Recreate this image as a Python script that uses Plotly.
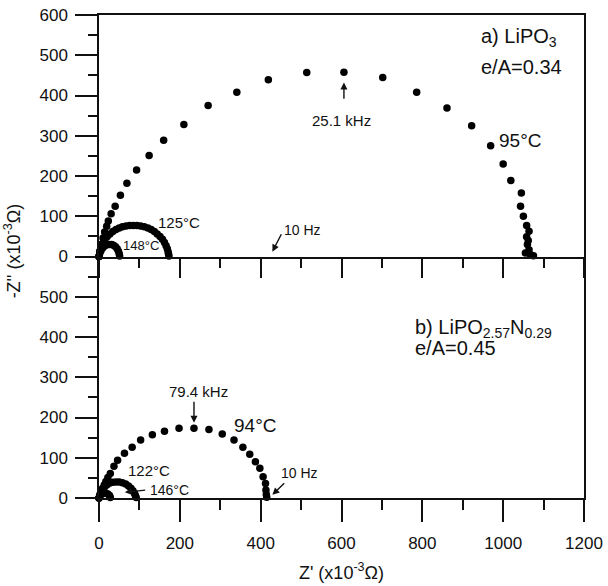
import plotly.graph_objects as go

# ---- data (Z' , -Z'') in units of 1e-3 ohm ----
# panel a) LiPO3
x95 = [0, 2, 6, 10, 14, 19, 23, 30, 40, 53, 69, 93, 124, 160, 210, 270, 341, 419, 514, 606, 702, 786, 861, 922, 969, 1000, 1019, 1045, 1043, 1050, 1058, 1064, 1058, 1062, 1060, 1064, 1055, 1067, 1075]
y95 = [0, 13, 30, 46, 61, 75, 88, 106, 125, 152, 182, 215, 251, 289, 328, 375, 408, 439, 457, 458, 445, 408, 369, 325, 275, 230, 189, 158, 125, 100, 77, 63, 49, 40, 30, 17, 9, 5, 2]
x125 = [0, 2, 5, 9, 14, 20, 27, 34, 42, 50, 58, 67, 76, 85, 94, 103, 112, 121, 129, 137, 144, 151, 157, 162, 166, 169, 171, 172, 173]
y125 = [0, 12, 22, 32, 41, 49, 56, 62, 67, 71, 74, 76, 77, 77, 77, 76, 74, 71, 67, 62, 56, 50, 43, 35, 27, 19, 12, 6, 1]
x148 = [0, 2, 5, 9, 14, 19, 25, 31, 36, 41, 45, 48, 50, 51]
y148 = [0, 8, 15, 21, 26, 29, 30, 30, 28, 24, 19, 13, 7, 1]

# panel b) LiPO2.57N0.29
x94 = [0, 3, 6, 9, 13, 17, 22, 28, 37, 46, 63, 82, 103, 132, 162, 198, 235, 272, 305, 334, 356, 373, 387, 398, 406, 412, 413, 414, 415, 416]
y94 = [0, 8, 16, 24, 32, 41, 51, 61, 79, 94, 111, 126, 144, 157, 166, 173, 173, 170, 159, 144, 126, 109, 90, 74, 53, 36, 20, 9, 2, -5]
x122 = [0, 2, 5, 9, 14, 20, 27, 34, 42, 50, 58, 66, 73, 79, 84, 88, 90, 92]
y122 = [0, 8, 15, 22, 28, 33, 37, 39, 40, 40, 38, 35, 30, 24, 18, 11, 6, 1]
x146 = [0, 3, 7, 12, 17, 22, 26, 28]
y146 = [0, 6, 10, 12, 12, 10, 6, 1]

x_ticks = [0, 200, 400, 600, 800, 1000, 1200]
y_ticks_top = [0, 100, 200, 300, 400, 500, 600]
y_ticks_bot = [0, 100, 200, 300, 400, 500]

FONT = "Liberation Sans, Arial, Helvetica, sans-serif"
INK = "#111111"

fig = go.Figure()
mk = dict(color="black", size=7.5)
for xs, ys in [(x95, y95), (x125, y125), (x148, y148)]:
    fig.add_trace(go.Scatter(x=xs, y=ys, mode="markers", marker=mk,
                             xaxis="x2", yaxis="y2", showlegend=False,
                             cliponaxis=False))
for xs, ys in [(x94, y94), (x122, y122), (x146, y146)]:
    fig.add_trace(go.Scatter(x=xs, y=ys, mode="markers", marker=mk,
                             xaxis="x", yaxis="y", showlegend=False,
                             cliponaxis=False))

axis_common = dict(showgrid=False, zeroline=False, showline=True, linecolor=INK,
                   linewidth=1.5, ticks="outside", tickcolor=INK, automargin=False,
                   tickwidth=1.5, tickfont=dict(family=FONT, size=17, color=INK))
minor_x = dict(dtick=100, ticklen=10, ticks="outside", tickcolor=INK, tickwidth=1.5)
minor_y = dict(dtick=50, ticklen=9, ticks="outside", tickcolor=INK, tickwidth=1.5)

fig.update_layout(
    width=608, height=586,
    margin=dict(l=99, r=24, t=15, b=88, autoexpand=False),
    plot_bgcolor="white", paper_bgcolor="white",
    font=dict(family=FONT, color=INK),
    xaxis=dict(axis_common, mirror=False, domain=[0, 1], range=[0, 1200], anchor="y",
               tickvals=x_ticks, ticklen=22, ticklabelstandoff=7, minor=minor_x,
               title=dict(text="Z' (x10<sup>-3</sup>Ω)", font=dict(family=FONT, size=18, color=INK),
                          standoff=14)),
    yaxis=dict(axis_common, mirror=True, domain=[0, 0.5], range=[0, 600], anchor="x",
               tickvals=y_ticks_bot, ticklen=22, ticklabelstandoff=4, minor=minor_y),
    xaxis2=dict(axis_common, mirror=True, domain=[0, 1], range=[0, 1200], anchor="y2",
                tickvals=x_ticks, ticklen=20, showticklabels=False, minor=minor_x),
    yaxis2=dict(axis_common, mirror=True, domain=[0.5, 1], range=[0, 600], anchor="x2",
                tickvals=y_ticks_top, ticklen=22, ticklabelstandoff=4, minor=minor_y),
)

def txt(x, y, s, size, xa="center", xref="x2", yref="y2"):
    fig.add_annotation(x=x, y=y, text=s, xref=xref, yref=yref, showarrow=False,
                       xanchor=xa, yanchor="middle",
                       font=dict(family=FONT, size=size, color=INK))

def arr(x, y, ax, ay, xref="x2", yref="y2"):
    fig.add_annotation(x=x, y=y, ax=ax, ay=ay, xref=xref, yref=yref,
                       axref=xref, ayref=yref, text="", showarrow=True,
                       arrowhead=2, arrowsize=1, arrowwidth=1.4, arrowcolor=INK)

# top panel
txt(939, 544, "a) LiPO<sub>3</sub>", 20, xa="left")
txt(939, 472, "e/A=0.34", 20, xa="left")
txt(984, 288, "95°C", 19, xa="left")
txt(601, 338, "25.1 kHz", 15)
arr(606, 432, 606, 388)
txt(503, 67, "10 Hz", 14)
arr(429, 12, 453, 59)
txt(197, 84, "125°C", 15)
txt(104, 27, "148°C", 13)

# bottom panel
B = dict(xref="x", yref="y")
txt(778, 422, "b) LiPO<sub>2.57</sub>N<sub>0.29</sub>", 20, xa="left", **B)
txt(778, 372, "e/A=0.45", 20, xa="left", **B)
txt(385, 181, "94°C", 19, **B)
txt(245, 264, "79.4 kHz", 15, **B)
arr(235, 187, 235, 243, **B)
txt(497, 62, "10 Hz", 14, **B)
arr(429, 8, 462, 40, **B)
txt(123, 68, "122°C", 15, **B)
txt(120, 21, "146°C", 14, xa="left", **B)
arr(64, 14, 118, 20, **B)

# y-axis title spanning both panels
fig.add_annotation(x=-0.178, y=0.512, xref="paper", yref="paper", showarrow=False,
                   text="-Z'' (x10<sup>-3</sup>Ω)", textangle=-90,
                   xanchor="center", yanchor="middle",
                   font=dict(family=FONT, size=18, color=INK))

fig.write_html("out.html")
